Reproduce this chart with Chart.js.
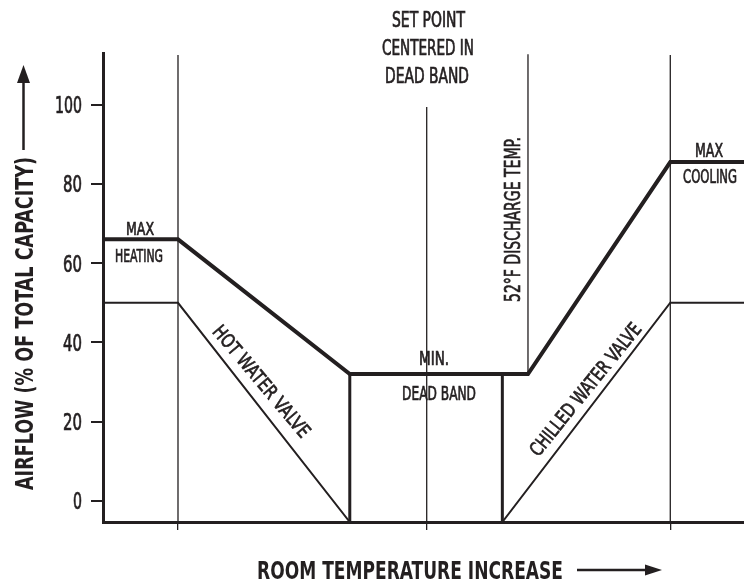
<!DOCTYPE html>
<html>
<head>
<meta charset="utf-8">
<script src="https://cdn.jsdelivr.net/npm/chart.js@4"></script>
<style>
  html, body { margin: 0; padding: 0; background: #fff; }
  #wrap { width: 744px; height: 582px; }
</style>
</head>
<body>
<div id="wrap"><canvas id="vavChart"></canvas></div>
<script>
// room temperature (arbitrary 0-100 scale) vs airflow %
const airflowX = [0, 11.7, 38.5, 66.3, 88.5, 100];
const airflowY = [66, 66, 32, 32, 85.5, 85.5];
const hotValveX = [0, 11.7, 38.5];
const hotValveY = [50, 50, -5.3];
const chilledValveX = [62.3, 88.5, 100];
const chilledValveY = [-5.3, 50, 50];
const deadBandX = [38.5, 62.3];
const deadBandTop = 32;
const refLineX = [11.7, 50.5, 66.3, 88.5];
const refLineTop = [112.5, 99.4, 112.7, 112.5];
const refLineBottom = [-5.3, -5.3, 32, -5.3];
const yTicks = [0, 20, 40, 60, 80, 100];
const yTickWidth = [9, 19, 19, 19, 19, 27];
const xTicks = [11.7, 50.5, 88.5];
const yMin = -5.3, yMax = 113;

const INK = '#231f20';
const FONT = '"DejaVu Sans Condensed", "DejaVu Sans", sans-serif';
const CAP = 0.729;

const pts = (xs, ys) => xs.map((x, i) => ({ x: x, y: ys[i] }));

const deadBandPts = [
  { x: deadBandX[0], y: deadBandTop }, { x: deadBandX[0], y: yMin },
  { x: (deadBandX[0] + deadBandX[1]) / 2, y: null },
  { x: deadBandX[1], y: yMin }, { x: deadBandX[1], y: deadBandTop }
];
const refPts = [];
refLineX.forEach((x, i) => {
  refPts.push({ x: x, y: refLineTop[i] }, { x: x, y: refLineBottom[i] });
  if (i < refLineX.length - 1) refPts.push({ x: x + 0.01, y: null });
});

// text labels in data coordinates: cap = cap height px, w = drawn width px
const notes = [
  { t: 'MAX', x: 5.77, y: 68.85, cap: 13.5, w: 28 },
  { t: 'HEATING', x: 5.62, y: 62.04, cap: 13.5, w: 48 },
  { t: 'HOT WATER VALVE', x: 24.8, y: 30.26, cap: 14, w: 140, rot: 50 },
  { t: 'MIN.', x: 51.64, y: 36.07, cap: 14, w: 30 },
  { t: 'DEAD BAND', x: 52.42, y: 27.24, cap: 14.5, w: 74 },
  { t: 'SET POINT', x: 50.78, y: 121.56, cap: 15, w: 73 },
  { t: 'CENTERED IN', x: 50.7, y: 114.38, cap: 15, w: 92 },
  { t: 'DEAD BAND', x: 50.55, y: 107.31, cap: 15, w: 84 },
  { t: '52°F DISCHARGE TEMP.', x: 63.81, y: 71.0, cap: 16, w: 165, rot: -90 },
  { t: 'MAX', x: 94.54, y: 88.52, cap: 14, w: 28 },
  { t: 'COOLING', x: 94.7, y: 82.09, cap: 14, w: 54 },
  { t: 'CHILLED WATER VALVE', x: 75.2, y: 28.25, cap: 14, w: 165, rot: -51 }
];

function fitText(ctx, text, x, y, cap, w, rot, bold, align) {
  ctx.save();
  ctx.translate(x, y);
  if (rot) ctx.rotate(rot * Math.PI / 180);
  ctx.font = (bold ? 'bold ' : '') + (cap / CAP).toFixed(1) + 'px ' + FONT;
  const m = ctx.measureText(text).width;
  ctx.scale(w / m, 1);
  ctx.textAlign = align || 'center';
  ctx.textBaseline = 'alphabetic';
  ctx.fillText(text, 0, cap / 2);
  if (!bold) {
    // thicken strokes a little, the source face is a medium weight
    ctx.lineWidth = 0.7;
    ctx.strokeText(text, 0, cap / 2);
  }
  ctx.restore();
}

function arrow(ctx, x1, y1, x2, y2, head, half) {
  const a = Math.atan2(y2 - y1, x2 - x1);
  const c = Math.cos(a), s = Math.sin(a);
  ctx.beginPath();
  ctx.moveTo(x1, y1);
  ctx.lineTo(x2 - c * head, y2 - s * head);
  ctx.stroke();
  ctx.beginPath();
  ctx.moveTo(x2, y2);
  ctx.lineTo(x2 - c * head - s * half, y2 - s * head + c * half);
  ctx.lineTo(x2 - c * head + s * half, y2 - s * head - c * half);
  ctx.closePath();
  ctx.fill();
}

const notesPlugin = {
  id: 'notes',
  afterDraw(chart) {
    const ctx = chart.ctx;
    const xs = chart.scales.x, ys = chart.scales.y;
    ctx.save();
    ctx.fillStyle = INK;
    ctx.strokeStyle = INK;

    yTicks.forEach((v, i) => {
      fitText(ctx, String(v), 82, ys.getPixelForValue(v), 17, yTickWidth[i], 0, false, 'right');
    });

    notes.forEach(n => {
      fitText(ctx, n.t, xs.getPixelForValue(n.x), ys.getPixelForValue(n.y), n.cap, n.w, n.rot, false);
    });

    // axis titles with arrows
    fitText(ctx, 'ROOM TEMPERATURE INCREASE', 257, 570, 17.5, 306, 0, true, 'left');
    ctx.lineWidth = 2.5;
    arrow(ctx, 577, 570, 662, 570, 17, 5.5);

    fitText(ctx, 'AIRFLOW (% OF TOTAL CAPACITY)', 24, 490, 18, 333, -90, true, 'left');
    arrow(ctx, 23.5, 150, 23.5, 65, 18, 6.5);
    ctx.restore();
  }
};

const ctx = document.getElementById('vavChart').getContext('2d');
const vavChart = new Chart(ctx, {
  type: 'line',
  data: {
    datasets: [
      { label: 'Total airflow', data: pts(airflowX, airflowY), borderColor: INK, borderWidth: 4 },
      { label: 'Hot water valve', data: pts(hotValveX, hotValveY), borderColor: INK, borderWidth: 2 },
      { label: 'Chilled water valve', data: pts(chilledValveX, chilledValveY), borderColor: INK, borderWidth: 2 },
      { label: 'Dead band', data: deadBandPts, borderColor: INK, borderWidth: 3 },
      { label: 'Reference', data: refPts, borderColor: INK, borderWidth: 1.3 }
    ]
  },
  options: {
    responsive: true,
    maintainAspectRatio: false,
    animation: false,
    spanGaps: false,
    layout: { padding: { top: 53, right: 0, left: 0, bottom: 0 } },
    elements: {
      point: { radius: 0 },
      line: { tension: 0, borderCapStyle: 'butt', borderJoinStyle: 'miter' }
    },
    plugins: {
      legend: { display: false },
      tooltip: { enabled: false }
    },
    scales: {
      x: {
        type: 'linear',
        min: 0,
        max: 100,
        afterBuildTicks: s => { s.ticks = xTicks.map(v => ({ value: v })); },
        afterFit: s => { s.height = 60; },
        ticks: { display: false },
        grid: { drawOnChartArea: false, tickLength: 8, color: INK, lineWidth: 1.3 },
        border: { color: INK, width: 3 }
      },
      y: {
        min: yMin,
        max: yMax,
        afterBuildTicks: s => { s.ticks = yTicks.map(v => ({ value: v })); },
        afterFit: s => { s.width = 103; },
        ticks: { display: false },
        grid: { drawOnChartArea: false, tickLength: 12, color: INK, lineWidth: 2 },
        border: { color: INK, width: 3 }
      }
    }
  },
  plugins: [notesPlugin]
});
</script>
</body>
</html>
